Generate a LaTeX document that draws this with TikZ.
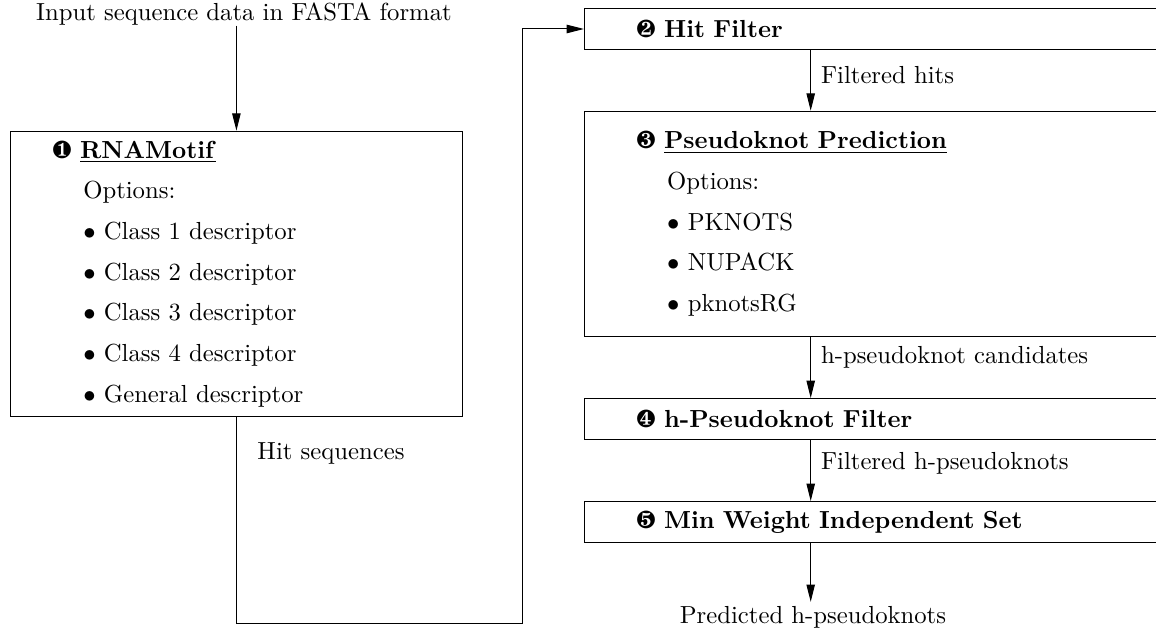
\documentclass[tikz,border=0pt]{standalone}
\usepackage{pifont}
\usetikzlibrary{positioning,arrows.meta,calc}
\newcommand{\optind}{\hspace*{12.5pt}}
\tikzset{
  stagebox/.style={rectangle,draw,anchor=north west,align=left,inner ysep=0pt,
    font=\fontsize{10pt}{16.5pt}\selectfont},
  leftbox/.style={stagebox,inner xsep=17pt,text width=149pt},
  rightbox/.style={stagebox,inner xsep=21pt,text width=192pt},
  arr/.style={-{Triangle[length=7pt,width=3.4pt]}},
  lbl/.style={inner sep=0pt},
}
\begin{document}
\begin{tikzpicture}[x=0.405pt,y=0.405pt]
  \useasboundingbox (0,0) rectangle (1156,-628);
  \coordinate (col) at (810.7,0);
  \coordinate (bend) at (522.7,-623);
  % left column
  \node[lbl] (input) at (244,-14) {Input sequence data in FASTA format};
  \node[leftbox,minimum height=115.6pt] (motif) at (10,-130.7) {%
    \ding{182} \underline{\textbf{RNAMotif}}\\
    \optind Options:\\
    \optind $\bullet$ Class 1 descriptor\\
    \optind $\bullet$ Class 2 descriptor\\
    \optind $\bullet$ Class 3 descriptor\\
    \optind $\bullet$ Class 4 descriptor\\
    \optind $\bullet$ General descriptor};
  \node[lbl,anchor=west] (hitlbl) at (257,-453) {Hit sequences};
  % right column
  \node[rightbox,minimum height=16.6pt] (hitf) at (584,-8) {\ding{183} \textbf{Hit Filter}};
  \node[rightbox,minimum height=91.2pt] (pkpred) at (584,-110.7) {%
    \ding{184} \underline{\textbf{Pseudoknot Prediction}}\\
    \optind Options:\\
    \optind $\bullet$ PKNOTS\\
    \optind $\bullet$ NUPACK\\
    \optind $\bullet$ pknotsRG};
  \node[rightbox,minimum height=16.6pt] (hpkf) at (584,-398) {\ding{185} \textbf{h-Pseudoknot Filter}};
  \node[rightbox,minimum height=16.6pt] (mwis) at (584,-501) {\ding{186} \textbf{Min Weight Independent Set}};
  \node[lbl,inner sep=1.5pt] (out) at (813,-617) {Predicted h-pseudoknots};
  % connectors
  \draw[arr] (input.south -| motif.north) -- (motif.north);
  \draw[arr] (motif.south) |- (bend) |- (hitf.west);
  \draw[arr] (hitf.south -| col) -- node[lbl,pos=.42,right=4pt] {Filtered hits} (pkpred.north -| col);
  \draw[arr] (pkpred.south -| col) -- node[lbl,pos=.34,right=4pt] {h-pseudoknot candidates} (hpkf.north -| col);
  \draw[arr] (hpkf.south -| col) -- node[lbl,pos=.39,right=4pt] {Filtered h-pseudoknots} (mwis.north -| col);
  \draw[arr] (mwis.south -| col) -- (out.north -| col);
\end{tikzpicture}
\end{document}
